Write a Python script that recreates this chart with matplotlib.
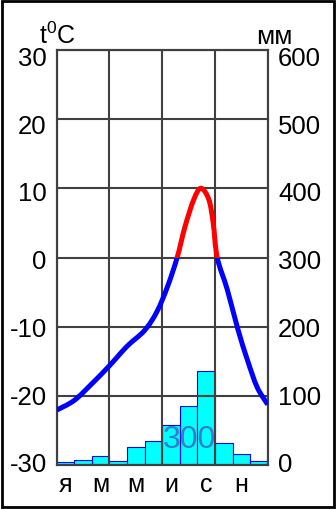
import matplotlib

matplotlib.use("Agg")
import matplotlib.pyplot as plt
import matplotlib.transforms as mtransforms
import numpy as np
from matplotlib.path import Path
from matplotlib.patches import PathPatch, Rectangle

plt.rcParams["font.family"] = ["Liberation Sans", "DejaVu Sans"]
plt.rcParams["mathtext.fontset"] = "custom"
plt.rcParams["mathtext.rm"] = "Liberation Sans"
plt.rcParams["axes.unicode_minus"] = False

# monthly precipitation, mm (right axis)
precip = [5, 8, 13, 6, 26, 35, 59, 86, 137, 32, 16, 7]
month_labels = ["я", "м", "м", "и", "с", "н"]
temp_ticks = [-30, -20, -10, 0, 10, 20, 30]
mm_ticks = [0, 100, 200, 300, 400, 500, 600]

# temperature curve: position in months, t °C
t_pos = [0, 1, 2, 3, 4, 5, 5.7, 6.3, 6.85, 7.3, 7.8, 8.2, 8.65, 8.9, 9.13,
         9.7, 10.3, 10.85, 11.4, 12]
t_val = [-22, -20.6, -18.2, -15.6, -12.8, -10.5, -7.8, -4.2, 0, 4.5, 8.4, 10,
         8.4, 5, 0, -4.6, -10.3, -14.8, -18.7, -21.2]

GRID = "#404040"


def smooth_path(xs, ys):
    # catmull-rom through the read points, drawn as bezier segments
    pts = np.column_stack([xs, ys]).astype(float)
    ext = np.vstack([pts[0], pts, pts[-1]])
    verts, codes = [tuple(pts[0])], [Path.MOVETO]
    for i in range(1, len(ext) - 2):
        p0, p1, p2, p3 = ext[i - 1], ext[i], ext[i + 1], ext[i + 2]
        verts += [tuple(p1 + (p2 - p0) / 6), tuple(p2 - (p3 - p1) / 6), tuple(p2)]
        codes += [Path.CURVE4] * 3
    return Path(verts, codes)


fig = plt.figure(figsize=(3.36, 5.10), dpi=100)
ax = fig.add_axes([0.1688, 0.0853, 0.7967 - 0.1688, 0.9006 - 0.0853])
ax2 = ax.twinx()
ax.set_zorder(ax2.get_zorder() + 1)
ax.patch.set_visible(False)

months = np.arange(12)
ax2.bar(months, precip, width=1, align="edge", color="#00ffff",
        edgecolor="#0000ff", linewidth=0.8)
ax2.set_ylim(0, 600)
ax2.set_yticks(mm_ticks)
ax2.set_yticklabels([])

ax.set_xlim(0, 12)
ax.set_ylim(-30, 30)
ax.set_yticks(temp_ticks)
ax.set_yticklabels([])
ax.set_xticks([0, 3, 6, 9, 12])
ax.set_xticklabels([])
ax.set_xticks(np.arange(0.5, 12, 2), minor=True)
ax.set_xticklabels(month_labels, minor=True)
ax.grid(True, color=GRID, linewidth=1.5)

for a in (ax, ax2):
    a.tick_params(which="both", length=0)
    for s in a.spines.values():
        s.set_color(GRID)
        s.set_linewidth(1.5)
ax.tick_params(axis="x", which="minor", pad=5, labelsize=18)

# the scale numbers in the original drift slightly below their grid lines
blend = mtransforms.blended_transform_factory(ax.transAxes, ax.transData)
for t, mm in zip(temp_ticks, mm_ticks):
    dy = (3.65 + 0.155 * t) / 100
    tr = blend + mtransforms.ScaledTranslation(0, -dy, fig.dpi_scale_trans)
    ax.text(-0.047, t, str(t), transform=tr, fontsize=18.5, ha="right", va="center")
    ax.text(1.05, t, str(mm), transform=tr, fontsize=18.5, ha="left", va="center")

path = smooth_path(t_pos, t_val)
for color, y0, y1 in [("#0000ff", -30, 0), ("#ff0000", 0, 30)]:
    clip = Rectangle((0, y0), 12, y1 - y0, transform=ax.transData)
    pp = PathPatch(path, facecolor="none", edgecolor=color, linewidth=3.6,
                   capstyle="butt", joinstyle="round", zorder=4)
    ax.add_patch(pp)
    pp.set_clip_path(clip)

ax.text(7.55, -26.2, "300", fontsize=23, color="#2f80cc",
        ha="center", va="center", zorder=3)

fig.text(0.116, 0.9006 + 0.013, r"t$^\mathregular{0}$C", fontsize=18,
         ha="left", va="baseline")
fig.text(0.818, 0.9006 + 0.013, "мм", fontsize=19, ha="center", va="baseline")

fig.patches.append(Rectangle((0.0045, 0.003), 0.991, 0.994, transform=fig.transFigure,
                             fill=False, edgecolor="black", linewidth=2))

fig.savefig("out.png", dpi=100, facecolor="white")
